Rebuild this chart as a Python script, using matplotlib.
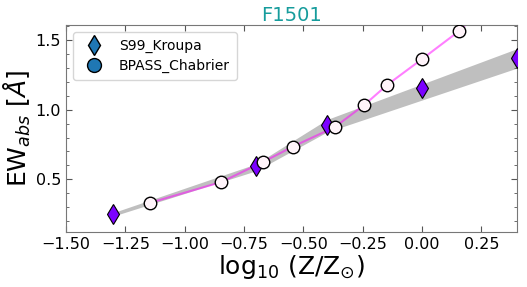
import numpy as np
import matplotlib
matplotlib.use('Agg')
import matplotlib.pyplot as plt
from matplotlib.lines import Line2D
from matplotlib.ticker import MultipleLocator

# S99 (Kroupa) points
s99_logz = [-1.3, -0.7, -0.4, 0.0, 0.4]
s99_ew = [0.25, 0.595, 0.89, 1.155, 1.375]
# grey range around S99
band_lo = [0.235, 0.56, 0.84, 1.07, 1.30]
band_hi = [0.26, 0.61, 0.93, 1.185, 1.44]

# BPASS (Chabrier) points
bp_logz = [-1.146, -0.845, -0.669, -0.544, -0.368, -0.243, -0.146, 0.0, 0.155, 0.331, 0.456]
bp_ew = [0.33, 0.48, 0.625, 0.735, 0.875, 1.035, 1.18, 1.365, 1.565, 1.85, 2.05]

fig = plt.figure(figsize=(5.27, 2.87), dpi=100)
ax = fig.add_axes([66/527, 1-232/287, (517-66)/527, (232-25)/287])

ax.fill_between(s99_logz, band_lo, band_hi, color='gray', alpha=0.5, lw=0, zorder=1)
ax.plot(bp_logz, bp_ew, '-', color='magenta', alpha=0.5, lw=1.5, zorder=2)
ax.plot(s99_logz, s99_ew, 'd', color='#7b00ff', mec='k', mew=0.8, ms=10, zorder=3)
ax.plot(bp_logz, bp_ew, 'o', mfc='#fff4fa', mec='k', mew=1.0, ms=9, zorder=4)

ax.set_xlim(-1.5, 0.4)
ax.set_ylim(0.12, 1.61)
ax.xaxis.set_major_locator(MultipleLocator(0.25))
ax.yaxis.set_major_locator(MultipleLocator(0.5))
ax.yaxis.set_minor_locator(MultipleLocator(0.1))
ax.tick_params(which='both', direction='in', top=True, right=True, labelsize=11.5, color='#555555')
ax.tick_params(which='major', length=4)
ax.tick_params(which='minor', length=2)
for s in ax.spines.values():
    s.set_color('#777777')

ax.set_title('F1501', color='#169c9c', fontsize=14, pad=2)
ax.set_xlabel(r'log$_{10}$ (Z/Z$_{\odot}$)', fontsize=18, labelpad=1)
ax.set_ylabel(r'EW$_{abs}$ [$\AA$]', fontsize=18, labelpad=2)

handles = [Line2D([], [], ls='', marker='d', color='C0', mec='k', ms=10),
           Line2D([], [], ls='', marker='o', color='C0', mec='k', ms=10)]
ax.legend(handles, ['S99_Kroupa', 'BPASS_Chabrier'], loc='upper left', fontsize=10,
          handletextpad=0.8, borderpad=0.5, labelspacing=0.4)

fig.savefig('out.png', dpi=100)
